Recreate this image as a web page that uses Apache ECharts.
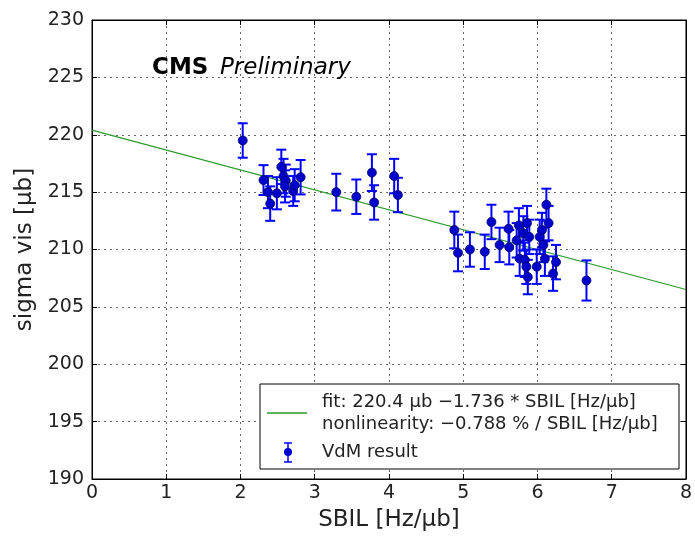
<!DOCTYPE html>
<html>
<head>
<meta charset="utf-8">
<script src="https://cdn.jsdelivr.net/npm/echarts@6/dist/echarts.min.js"></script>
<style>
  html, body { margin: 0; padding: 0; background: #fff; }
  #chart { width: 695px; height: 539px; }
</style>
</head>
<body>
<div id="chart"></div>
<script>
  // VdM scan points
  var sbil = [2.03, 2.31, 2.37, 2.40, 2.49, 2.55, 2.58, 2.61, 2.60, 2.71, 2.73, 2.81,
    3.29, 3.56, 3.77, 3.80, 4.07, 4.12,
    4.88, 4.93, 5.09, 5.29, 5.38, 5.49, 5.61, 5.62, 5.72, 5.75, 5.76, 5.81, 5.83,
    5.86, 5.87, 5.89, 5.85, 5.99, 6.03, 6.06, 6.08, 6.10, 6.12, 6.15, 6.21, 6.25, 6.66];
  var sigma = [219.5, 216.05, 215.0, 214.0, 214.9, 217.2, 216.4, 216.0, 215.5, 215.1, 215.6, 216.3,
    215.0, 214.6, 216.7, 214.1, 216.4, 214.75,
    211.7, 209.7, 210.0, 209.8, 212.4, 210.4, 211.8, 210.2, 210.8, 212.1, 209.2, 211.4, 209.1,
    212.3, 207.6, 211.1, 208.5, 208.5, 211.1, 211.7, 210.4, 209.2, 213.9, 212.3, 207.9, 208.9, 207.3];
  var sigmaErr = [1.5, 1.3, 1.4, 1.5, 1.4, 1.5, 1.5, 1.4, 1.4, 1.3, 1.4, 1.5,
    1.6, 1.5, 1.6, 1.5, 1.5, 1.5,
    1.6, 1.6, 1.5, 1.5, 1.5, 1.5, 1.5, 1.5, 1.5, 1.5, 1.5, 1.5, 1.5,
    1.5, 1.5, 1.5, 1.5, 1.5, 1.5, 1.5, 1.5, 1.5, 1.4, 1.5, 1.5, 1.5, 1.75];

  // linear fit parameters
  var fitIntercept = 220.4;
  var fitSlope = -1.736;
  var fitX = [0, 8];

  var points = sbil.map(function (x, i) { return [x, sigma[i]]; });
  var bars = sbil.map(function (x, i) { return [x, sigma[i] - sigmaErr[i], sigma[i] + sigmaErr[i]]; });
  var fitLine = fitX.map(function (x) { return [x, fitIntercept + fitSlope * x]; });

  var font = 'DejaVu Sans';
  var blue = '#0000ff';
  var green = '#2a9a2a';

  var chart = echarts.init(document.getElementById('chart'));

  var axisCommon = {
    axisLine: { show: true, onZero: false, lineStyle: { color: '#000', width: 1 } },
    axisTick: { show: true, inside: true, length: 5, lineStyle: { color: '#000', width: 1 } }
  };
  var gridLine = { show: true, lineStyle: { color: '#000', type: [2, 4], width: 1, opacity: 0.6 } };

  chart.setOption({
    animation: false,
    grid: { left: 92, right: 9, top: 20, bottom: 60, show: true, borderColor: '#000', borderWidth: 1 },
    xAxis: [
      Object.assign({
        type: 'value', min: 0, max: 8, interval: 1,
        name: 'SBIL [Hz/μb]', nameLocation: 'middle', nameGap: 30,
        nameTextStyle: { fontFamily: font, fontSize: 23, color: '#222' },
        axisLabel: { fontFamily: font, fontSize: 19, color: '#222', margin: 5 },
        splitLine: gridLine
      }, axisCommon),
      Object.assign({
        type: 'value', min: 0, max: 8, interval: 1, position: 'top',
        axisLabel: { show: false }, splitLine: { show: false }
      }, axisCommon)
    ],
    yAxis: [
      Object.assign({
        type: 'value', min: 190, max: 230, interval: 5,
        name: 'sigma vis [μb]', nameLocation: 'middle', nameGap: 50,
        nameTextStyle: { fontFamily: font, fontSize: 23, color: '#222' },
        axisLabel: { fontFamily: font, fontSize: 19, color: '#222', margin: 8 },
        splitLine: gridLine
      }, axisCommon),
      Object.assign({
        type: 'value', min: 190, max: 230, interval: 5, position: 'right',
        axisLabel: { show: false }, splitLine: { show: false }
      }, axisCommon)
    ],
    series: [
      {
        name: 'fit',
        type: 'line',
        data: fitLine,
        symbol: 'none',
        lineStyle: { color: green, width: 1.2 },
        z: 2
      },
      {
        name: 'err',
        type: 'custom',
        data: bars,
        renderItem: function (params, api) {
          var x = api.value(0);
          var lo = api.coord([x, api.value(1)]);
          var hi = api.coord([x, api.value(2)]);
          var cw = 5;
          var st = { stroke: blue, lineWidth: 2 };
          return {
            type: 'group',
            children: [
              { type: 'line', shape: { x1: lo[0], y1: lo[1], x2: hi[0], y2: hi[1] }, style: st },
              { type: 'line', shape: { x1: lo[0] - cw, y1: lo[1], x2: lo[0] + cw, y2: lo[1] }, style: st },
              { type: 'line', shape: { x1: hi[0] - cw, y1: hi[1], x2: hi[0] + cw, y2: hi[1] }, style: st }
            ]
          };
        },
        z: 3
      },
      {
        name: 'VdM result',
        type: 'scatter',
        data: points,
        symbol: 'circle',
        symbolSize: 9,
        itemStyle: { color: '#0000cc', borderColor: '#000066', borderWidth: 0.8, opacity: 1 },
        z: 4
      }
    ],
    graphic: [
      {
        type: 'text', left: 152, top: 57, z: 100,
        style: { text: 'CMS', fontFamily: font, fontSize: 23, fontWeight: 'bold', fill: '#000' }
      },
      {
        type: 'text', left: 220, top: 57, z: 100,
        style: { text: 'Preliminary', fontFamily: font, fontSize: 23, fontStyle: 'italic', fill: '#000' }
      },
      // legend box
      { type: 'rect', z: 100, shape: { x: 260, y: 384, width: 419, height: 85 },
        style: { fill: '#fff', stroke: '#000', lineWidth: 1 } },
      { type: 'line', z: 101, shape: { x1: 267, y1: 413, x2: 307, y2: 413 },
        style: { stroke: green, lineWidth: 1.5 } },
      { type: 'text', z: 101, x: 322, y: 402,
        style: { text: 'fit: 220.4 μb −1.736 * SBIL [Hz/μb]', fontFamily: font, fontSize: 18,
          fill: '#222', verticalAlign: 'middle' } },
      { type: 'text', z: 101, x: 322, y: 424,
        style: { text: 'nonlinearity: −0.788 % / SBIL [Hz/μb]', fontFamily: font, fontSize: 18,
          fill: '#222', verticalAlign: 'middle' } },
      { type: 'line', z: 101, shape: { x1: 288, y1: 443, x2: 288, y2: 462 }, style: { stroke: blue, lineWidth: 1.5 } },
      { type: 'line', z: 101, shape: { x1: 284, y1: 443, x2: 292, y2: 443 }, style: { stroke: blue, lineWidth: 1.5 } },
      { type: 'line', z: 101, shape: { x1: 284, y1: 462, x2: 292, y2: 462 }, style: { stroke: blue, lineWidth: 1.5 } },
      { type: 'circle', z: 101, shape: { cx: 288, cy: 452, r: 4 }, style: { fill: '#0000cc' } },
      { type: 'text', z: 101, x: 322, y: 452,
        style: { text: 'VdM result', fontFamily: font, fontSize: 18, fill: '#222', verticalAlign: 'middle' } }
    ]
  });
</script>
</body>
</html>
